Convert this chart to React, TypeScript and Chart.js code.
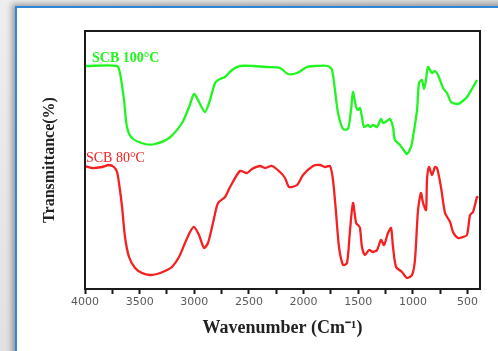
import React, { useEffect, useRef } from "react";
import { Chart, registerables } from "chart.js";

Chart.register(...registerables);

// SCB 100°C (green) — wavenumber (cm-1) and relative transmittance
const wn100 = [4000, 3707, 3680, 3643, 3616, 3570, 3451, 3360, 3231, 3112, 3048, 3002, 2957, 2902, 2856, 2810, 2765, 2719, 2655, 2582, 2463, 2335, 2216, 2143, 2060, 1969, 1896, 1777, 1740, 1713, 1685, 1639, 1594, 1566, 1548, 1520, 1502, 1484, 1466, 1447, 1411, 1392, 1365, 1328, 1292, 1273, 1237, 1209, 1182, 1164, 1118, 1072, 1054, 1017, 999, 962, 944, 917, 898, 880, 862, 825, 798, 770, 724, 688, 651, 596, 569, 505, 413];
const tr100 = [223, 223, 216, 189, 162, 151, 145, 145, 151, 166, 182, 195, 187, 177, 189, 206, 210, 212, 219, 223, 223, 222, 221, 215, 216, 222, 223, 223, 219, 199, 176, 160, 160, 179, 197, 182, 179, 181, 172, 162, 164, 162, 164, 162, 170, 166, 168, 170, 162, 149, 144, 137, 135, 142, 152, 179, 206, 209, 200, 209, 222, 216, 218, 214, 201, 196, 187, 185, 186, 192, 209];

// SCB 80°C (red)
const wn80 = [4000, 3936, 3844, 3780, 3735, 3707, 3689, 3661, 3634, 3597, 3542, 3478, 3405, 3341, 3268, 3204, 3140, 3085, 3039, 3003, 2957, 2911, 2875, 2829, 2783, 2719, 2673, 2582, 2518, 2472, 2399, 2353, 2289, 2216, 2170, 2133, 2060, 2005, 1914, 1850, 1804, 1758, 1731, 1703, 1676, 1639, 1603, 1575, 1548, 1520, 1502, 1484, 1466, 1438, 1401, 1365, 1328, 1292, 1264, 1228, 1200, 1182, 1154, 1100, 1054, 1008, 981, 953, 926, 907, 880, 871, 853, 825, 798, 779, 743, 706, 660, 633, 587, 541, 505, 477, 450, 413, 404];
const tr80 = [123, 121, 122, 124, 122, 117, 106, 82, 52, 32, 21, 16, 14, 15, 18, 22, 32, 46, 57, 62, 54, 41, 46, 66, 86, 92, 102, 118, 116, 120, 123, 121, 123, 117, 111, 102, 104, 114, 123, 124, 122, 123, 109, 76, 42, 24, 26, 59, 86, 66, 64, 61, 42, 34, 39, 37, 39, 49, 44, 56, 61, 42, 22, 17, 11, 14, 29, 79, 96, 86, 79, 109, 122, 114, 122, 121, 102, 76, 67, 57, 51, 52, 54, 74, 77, 92, 91];

const seriesNames = ["SCB 100°C", "SCB 80°C"];
const xTitle = "Wavenumber (Cm⁻¹)";
const yTitle = "Transmittance(%)";

const GREEN = "#1ff51f";
const RED = "#f52020";

const labelPlugin = {
  id: "frameAndLabels",
  afterDatasetsDraw(chart: any) {
    const { ctx, chartArea: a, scales } = chart;
    ctx.save();
    ctx.strokeStyle = "#1a1a1a";
    ctx.lineWidth = 2;
    ctx.strokeRect(a.left, a.top, a.right - a.left, a.bottom - a.top);
    const anchors = [
      { w: 3936, t: 231, font: "bold 14px 'Liberation Serif', serif", color: GREEN },
      { w: 3991, t: 131, font: "14px 'Liberation Serif', serif", color: RED },
    ];
    ctx.textBaseline = "middle";
    ctx.textAlign = "left";
    chart.data.datasets.forEach((ds: any, i: number) => {
      const an = anchors[i];
      ctx.font = an.font;
      ctx.fillStyle = an.color;
      ctx.fillText(ds.label, scales.x.getPixelForValue(an.w), scales.y.getPixelForValue(an.t));
    });
    ctx.restore();
  },
};

export default function App() {
  const ref = useRef<HTMLCanvasElement>(null);
  useEffect(() => {
    if (!ref.current) return;
    const chart = new Chart(ref.current, {
      type: "line",
      data: {
        datasets: [
          {
            label: seriesNames[0],
            data: wn100.map((w, i) => ({ x: w, y: tr100[i] })),
            borderColor: GREEN,
            borderWidth: 2.3,
            pointRadius: 0,
            tension: 0.25,
            fill: false,
          },
          {
            label: seriesNames[1],
            data: wn80.map((w, i) => ({ x: w, y: tr80[i] })),
            borderColor: RED,
            borderWidth: 2.3,
            pointRadius: 0,
            tension: 0.25,
            fill: false,
          },
        ],
      },
      options: {
        animation: false,
        responsive: false,
        devicePixelRatio: 1,
        layout: { padding: { left: 36, right: 18, top: 31, bottom: 0 } },
        plugins: { legend: { display: false }, tooltip: { enabled: false } },
        scales: {
          x: {
            type: "linear",
            reverse: true,
            min: 386,
            max: 4000,
            afterFit: (s: any) => {
              s.height = 62;
            },
            border: { display: false },
            grid: {
              drawOnChartArea: false,
              drawTicks: true,
              tickLength: 5,
              tickWidth: 2,
              tickColor: "#1a1a1a",
            },
            ticks: {
              stepSize: 250,
              autoSkip: false,
              includeBounds: false,
              maxRotation: 0,
              padding: 2,
              color: "#5a5a5a",
              font: { family: "'DejaVu Sans', sans-serif", size: 11 },
              callback: (v: any) => (Number(v) % 500 === 0 ? String(v) : ""),
            },
            title: {
              display: true,
              text: xTitle,
              color: "#222",
              font: { family: "'Liberation Serif', serif", size: 18, weight: "bold" },
              padding: { top: 0, bottom: 12 },
            },
          },
          y: {
            min: 0,
            max: 258,
            afterFit: (s: any) => {
              s.width = 49;
            },
            border: { display: false },
            grid: { display: false },
            ticks: { display: false },
            title: {
              display: true,
              text: yTitle,
              color: "#222",
              font: { family: "'Liberation Serif', serif", size: 16, weight: "bold" },
              padding: { top: 4, bottom: 0 },
            },
          },
        },
      },
      plugins: [labelPlugin],
    });
    return () => chart.destroy();
  }, []);

  return (
    <div
      style={{
        position: "fixed",
        left: 0,
        top: 0,
        width: 498,
        height: 351,
        overflow: "hidden",
        background: "linear-gradient(135deg, #eeeeee, #cfcfcf)",
      }}
    >
      <div
        style={{
          position: "absolute",
          left: 15,
          top: 6,
          width: 500,
          height: 360,
          background: "#fff",
          borderLeft: "2px solid #2f86d6",
          borderTop: "2px solid #2f86d6",
          boxShadow: "-3px -2px 6px rgba(0,0,0,0.35)",
        }}
      />
      <canvas
        ref={ref}
        width={498}
        height={351}
        style={{ position: "absolute", left: 0, top: 0, width: 498, height: 351 }}
      />
    </div>
  );
}
